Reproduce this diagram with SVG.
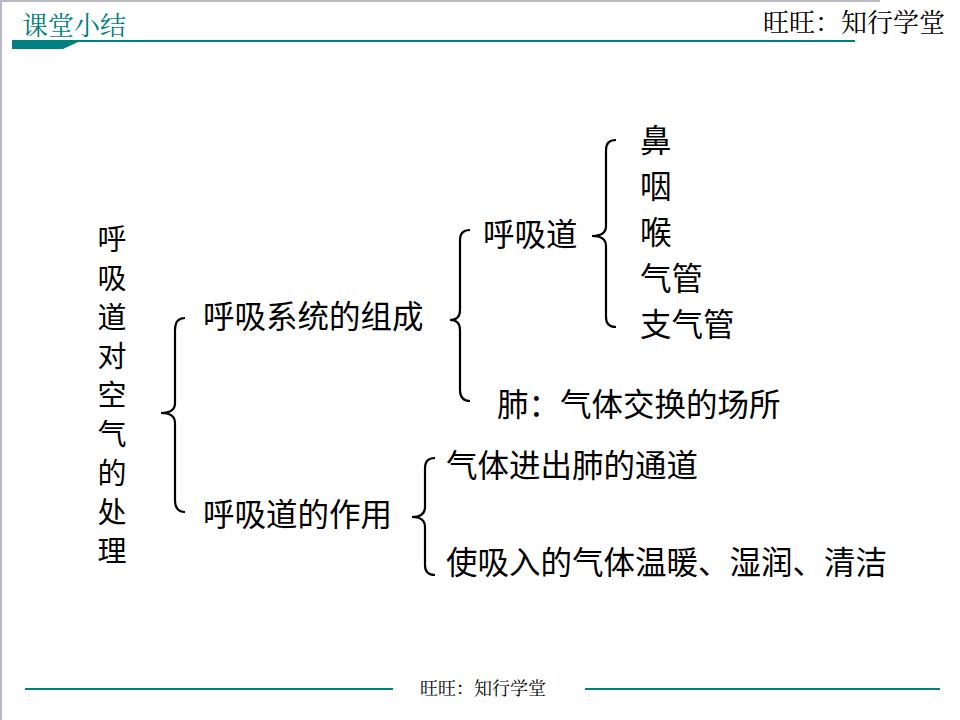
<svg xmlns="http://www.w3.org/2000/svg" width="960" height="720" viewBox="0 0 960 720">
<style>
.t{font-family:"Noto Sans CJK SC","Noto Sans",sans-serif;font-size:31.5px;fill:#000}
.r{font-family:"Noto Sans CJK SC","Noto Sans",sans-serif;font-size:29px;fill:#000}
.s{font-family:"Noto Serif CJK SC","Liberation Serif","Noto Sans CJK SC",serif}
.b{fill:none;stroke:#000;stroke-width:2.2}
</style>
<rect width="960" height="720" fill="#fff"/>
<path d="M0 1H880M1 0V720" stroke="#b8b8c8" stroke-width="2"/>
<g id="header">
<text x="22" y="35" class="s" font-size="26" fill="#007f7f">课堂小结</text>
<text x="945" y="32" class="s" font-size="26" fill="#000" text-anchor="end">旺旺：知行学堂</text>
<rect x="12" y="40" width="843" height="2" fill="#008080"/>
<path d="M12 42H78L63 49H12Z" fill="#008080"/>
</g>
<g id="footer">
<path d="M25 689H393M585 689H940" stroke="#008080" stroke-width="2"/>
<text x="420" y="695" class="s" font-size="18" fill="#000">旺旺：知行学堂</text>
</g>
<g id="connectors">
<path class="b" d="M185 318Q175 318 175 330L175 403Q175 413 161 413Q175 413 175 423L175 500Q175 512 185 512"/>
<path class="b" d="M470 230Q460 230 460 240L460 310Q460 320 450 320Q460 320 460 330L460 390Q460 401 470 401"/>
<path class="b" d="M616 140Q606 140 606 150L606 226Q606 236 592 236Q606 236 606 246L606 317Q606 327 616 327"/>
<path class="b" d="M435 458Q425 458 425 468L425 507Q425 517 412 517Q425 517 425 527L425 565Q425 575 435 575"/>
</g>
<g id="root"><text class="r" x="112" text-anchor="middle">
<tspan x="112" y="250">呼</tspan><tspan x="112" y="289">吸</tspan><tspan x="112" y="328">道</tspan><tspan x="112" y="367">对</tspan><tspan x="112" y="406">空</tspan><tspan x="112" y="445">气</tspan><tspan x="112" y="484">的</tspan><tspan x="112" y="523">处</tspan><tspan x="112" y="562">理</tspan></text></g>
<g id="n1"><text class="t" x="203" y="328">呼吸系统的组成</text></g>
<g id="n2"><text class="t" x="203" y="526">呼吸道的作用</text></g>
<g id="n3"><text class="t" x="483" y="246">呼吸道</text></g>
<g id="n4"><text class="t" x="497" y="416">肺：气体交换的场所</text></g>
<g id="n5"><text class="t" x="640" y="152">鼻</text></g>
<g id="n6"><text class="t" x="640" y="198">咽</text></g>
<g id="n7"><text class="t" x="640" y="244">喉</text></g>
<g id="n8"><text class="t" x="640" y="290">气管</text></g>
<g id="n9"><text class="t" x="640" y="336">支气管</text></g>
<g id="n10"><text class="t" x="446" y="477">气体进出肺的通道</text></g>
<g id="n11"><text class="t" x="446" y="574">使吸入的气体温暖、湿润、清洁</text></g>
</svg>
